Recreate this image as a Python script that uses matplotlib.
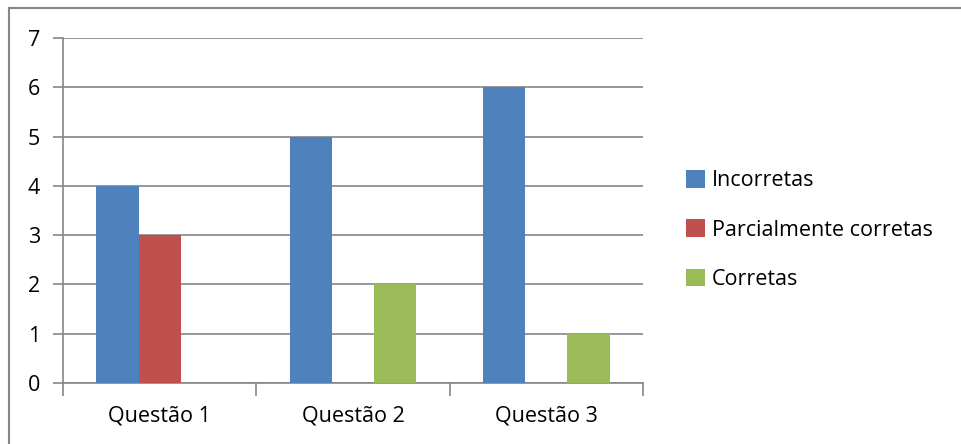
import matplotlib
matplotlib.use("Agg")
import matplotlib.pyplot as plt
import numpy as np
from matplotlib.lines import Line2D

categories = ["Questão 1", "Questão 2", "Questão 3"]
series_names = ["Incorretas", "Parcialmente corretas", "Corretas"]
incorretas = [4, 5, 6]
parciais = [3, 0, 0]
corretas = [0, 2, 1]
colors = ["#4F81BD", "#C0504D", "#9BBB59"]

plt.rcParams['font.family'] = ['Open Sans', 'DejaVu Sans']
FS = 15.5

fig = plt.figure(figsize=(9.62, 4.44), dpi=100)
ax = fig.add_axes([63/962, 61/444, 580/962, 345/444])

x = np.arange(len(categories))
w = 0.218
for i, (vals, c, name) in enumerate(zip([incorretas, parciais, corretas], colors, series_names)):
    ax.bar(x + (i - 1) * w, vals, width=w, color=c, label=name, zorder=3)

ax.set_xlim(-0.5, 2.5)
ax.set_ylim(0, 7)
ax.set_yticks(range(0, 8))
ax.yaxis.grid(True, color="#868686", linewidth=1.2, zorder=0)
ax.set_xticks(x)
ax.set_xticklabels(categories, fontsize=FS)
ax.set_xticks([-0.5, 0.5, 1.5, 2.5], minor=True)
ax.tick_params(axis='x', which='major', length=0, pad=16)
ax.tick_params(axis='x', which='minor', length=9, color="#868686", width=1.2)
ax.tick_params(axis='y', length=7, color="#868686", width=1.2, labelsize=FS, pad=14)
for lbl in ax.get_yticklabels():
    lbl.set_horizontalalignment('center')
for s in ['top', 'right']:
    ax.spines[s].set_visible(False)
for s in ['left', 'bottom']:
    ax.spines[s].set_color("#868686")
    ax.spines[s].set_linewidth(1.2)

leg = fig.legend(loc='center left', bbox_to_anchor=(667/962, (444-230)/444),
                 frameon=False, fontsize=FS, handlelength=0.85, handleheight=0.85,
                 handletextpad=0.35, labelspacing=1.3)

# figure border: top and left edges only (image is cropped on right/bottom)
fig.add_artist(Line2D([8.5/962, 1.0], [1 - 8.5/444, 1 - 8.5/444], transform=fig.transFigure,
                      color="#868686", linewidth=1.5))
fig.add_artist(Line2D([8.5/962, 8.5/962], [0, 1 - 8.5/444], transform=fig.transFigure,
                      color="#868686", linewidth=1.5))

fig.savefig("out.png", dpi=100)
